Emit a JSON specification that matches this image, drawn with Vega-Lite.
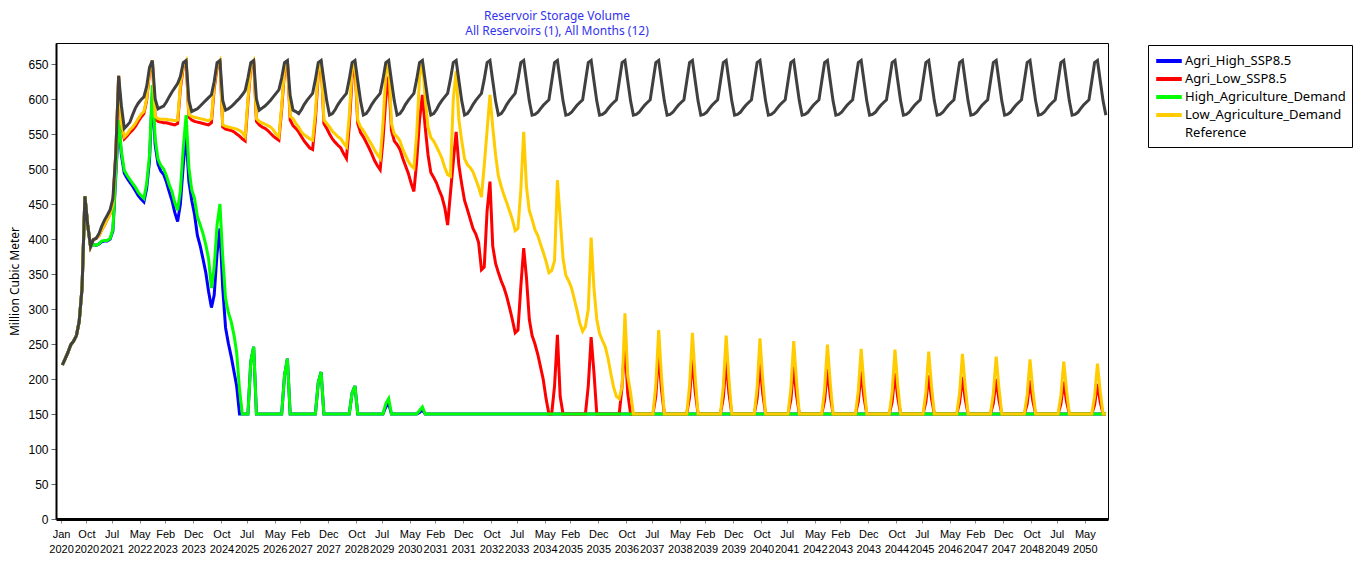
{
"$schema": "https://vega.github.io/schema/vega-lite/v6.json",
"width": 1052, "height": 476,
"autosize": "none",
"padding": {"left": 56, "top": 43, "right": 257, "bottom": 45},
"background": "white",
"title": {"text": ["Reservoir Storage Volume", "All Reservoirs (1),  All Months (12)"], "color": "#3333ee", "font": "Noto Sans", "fontSize": 12, "fontWeight": "normal", "anchor": "middle", "dx": -25, "offset": 5, "lineHeight": 15},
"config": {
  "view": {"stroke": "black", "strokeWidth": 1},
  "axisX": {"labelFont": "Liberation Sans", "labelFontSize": 11, "labelColor": "black", "labelPadding": 5, "labelLineHeight": 15, "tickSize": 4, "tickColor": "#888888", "domainColor": "black", "domainWidth": 3, "grid": false, "labelOverlap": false, "labelFlush": false, "labelBound": false},
  "axisY": {"labelFont": "Liberation Sans", "labelFontSize": 12, "labelColor": "black", "labelPadding": 3, "tickSize": 5, "tickColor": "#666666", "domainColor": "black", "domainWidth": 2, "grid": false, "labelOverlap": false, "titleFont": "Noto Sans", "titleFontSize": 12, "titleFontWeight": "normal", "titleColor": "black", "titlePadding": 6}
},
"data": {"values": [
{"d":"2020-01-15","AH":220,"AL":220,"HD":220,"LD":220,"R":220},
{"d":"2020-02-15","AH":229,"AL":229,"HD":229,"LD":229,"R":229},
{"d":"2020-03-15","AH":238,"AL":238,"HD":238,"LD":238,"R":238},
{"d":"2020-04-15","AH":249,"AL":249,"HD":249,"LD":249,"R":249},
{"d":"2020-05-15","AH":254,"AL":254,"HD":254,"LD":254,"R":254},
{"d":"2020-06-15","AH":262,"AL":262,"HD":262,"LD":262,"R":262},
{"d":"2020-07-15","AH":282,"AL":282,"HD":282,"LD":282,"R":282},
{"d":"2020-08-15","AH":330,"AL":330,"HD":330,"LD":330,"R":330},
{"d":"2020-09-15","AH":461,"AL":461,"HD":461,"LD":461,"R":461},
{"d":"2020-10-15","AH":420,"AL":420,"HD":420,"LD":420,"R":420},
{"d":"2020-11-15","AH":389,"AL":389,"HD":389,"LD":389,"R":389},
{"d":"2020-12-15","AH":392,"AL":399,"HD":392,"LD":399,"R":399},
{"d":"2021-01-15","AH":391,"AL":401,"HD":391,"LD":401,"R":401},
{"d":"2021-02-15","AH":393,"AL":405,"HD":393,"LD":405,"R":408},
{"d":"2021-03-15","AH":396,"AL":413,"HD":397,"LD":413,"R":418},
{"d":"2021-04-15","AH":397,"AL":420,"HD":398,"LD":420,"R":427},
{"d":"2021-05-15","AH":397,"AL":428,"HD":398,"LD":428,"R":434},
{"d":"2021-06-15","AH":400,"AL":436,"HD":401,"LD":436,"R":442},
{"d":"2021-07-15","AH":412,"AL":450,"HD":414,"LD":450,"R":458},
{"d":"2021-08-15","AH":490,"AL":522,"HD":495,"LD":522,"R":522},
{"d":"2021-09-15","AH":565,"AL":633,"HD":570,"LD":633,"R":633},
{"d":"2021-10-15","AH":520,"AL":562,"HD":525,"LD":565,"R":590},
{"d":"2021-11-15","AH":494,"AL":543,"HD":498,"LD":546,"R":558},
{"d":"2021-12-15","AH":487,"AL":547,"HD":491,"LD":550,"R":562},
{"d":"2022-01-15","AH":481,"AL":552,"HD":485,"LD":556,"R":567},
{"d":"2022-02-15","AH":475,"AL":556,"HD":479,"LD":560,"R":578},
{"d":"2022-03-15","AH":469,"AL":561,"HD":474,"LD":565,"R":587},
{"d":"2022-04-15","AH":462,"AL":568,"HD":467,"LD":572,"R":594},
{"d":"2022-05-15","AH":457,"AL":574,"HD":462,"LD":578,"R":599},
{"d":"2022-06-15","AH":453,"AL":579,"HD":458,"LD":582,"R":603},
{"d":"2022-07-15","AH":472,"AL":598,"HD":479,"LD":600,"R":618},
{"d":"2022-08-15","AH":512,"AL":638,"HD":520,"LD":640,"R":645},
{"d":"2022-09-15","AH":610,"AL":655,"HD":620,"LD":655,"R":655},
{"d":"2022-10-15","AH":535,"AL":572,"HD":543,"LD":575,"R":600},
{"d":"2022-11-15","AH":507,"AL":568,"HD":514,"LD":572,"R":586},
{"d":"2022-12-15","AH":497,"AL":567,"HD":505,"LD":571,"R":588},
{"d":"2023-01-15","AH":492,"AL":566,"HD":500,"LD":571,"R":590},
{"d":"2023-02-15","AH":481,"AL":566,"HD":490,"LD":571,"R":596},
{"d":"2023-03-15","AH":468,"AL":565,"HD":478,"LD":570,"R":603},
{"d":"2023-04-15","AH":455,"AL":564,"HD":468,"LD":570,"R":610},
{"d":"2023-05-15","AH":438,"AL":563,"HD":452,"LD":569,"R":616},
{"d":"2023-06-15","AH":425,"AL":565,"HD":441,"LD":570,"R":622},
{"d":"2023-07-15","AH":450,"AL":615,"HD":469,"LD":620,"R":632},
{"d":"2023-08-15","AH":505,"AL":645,"HD":530,"LD":648,"R":652},
{"d":"2023-09-15","AH":550,"AL":655,"HD":577,"LD":655,"R":655},
{"d":"2023-10-15","AH":482,"AL":574,"HD":502,"LD":578,"R":598},
{"d":"2023-11-15","AH":455,"AL":570,"HD":470,"LD":575,"R":582},
{"d":"2023-12-15","AH":435,"AL":568,"HD":458,"LD":574,"R":584},
{"d":"2024-01-15","AH":405,"AL":567,"HD":432,"LD":573,"R":586},
{"d":"2024-02-15","AH":390,"AL":566,"HD":420,"LD":572,"R":590},
{"d":"2024-03-15","AH":372,"AL":565,"HD":408,"LD":571,"R":594},
{"d":"2024-04-15","AH":352,"AL":564,"HD":392,"LD":570,"R":598},
{"d":"2024-05-15","AH":325,"AL":563,"HD":372,"LD":569,"R":602},
{"d":"2024-06-15","AH":302,"AL":566,"HD":330,"LD":572,"R":606},
{"d":"2024-07-15","AH":320,"AL":615,"HD":360,"LD":620,"R":625},
{"d":"2024-08-15","AH":380,"AL":645,"HD":420,"LD":648,"R":652},
{"d":"2024-09-15","AH":415,"AL":655,"HD":450,"LD":655,"R":655},
{"d":"2024-10-15","AH":330,"AL":560,"HD":375,"LD":563,"R":598},
{"d":"2024-11-15","AH":273,"AL":557,"HD":315,"LD":561,"R":584},
{"d":"2024-12-15","AH":251,"AL":556,"HD":295,"LD":560,"R":586},
{"d":"2025-01-15","AH":232,"AL":555,"HD":282,"LD":559,"R":589},
{"d":"2025-02-15","AH":210,"AL":553,"HD":262,"LD":558,"R":593},
{"d":"2025-03-15","AH":190,"AL":550,"HD":238,"LD":557,"R":597},
{"d":"2025-04-15","AH":150,"AL":547,"HD":185,"LD":555,"R":601},
{"d":"2025-05-15","AH":150,"AL":543,"HD":150,"LD":552,"R":606},
{"d":"2025-06-15","AH":150,"AL":540,"HD":150,"LD":546,"R":612},
{"d":"2025-07-15","AH":150,"AL":595,"HD":150,"LD":600,"R":630},
{"d":"2025-08-15","AH":225,"AL":645,"HD":225,"LD":648,"R":652},
{"d":"2025-09-15","AH":246,"AL":655,"HD":246,"LD":655,"R":655},
{"d":"2025-10-15","AH":150,"AL":568,"HD":150,"LD":572,"R":600},
{"d":"2025-11-15","AH":150,"AL":563,"HD":150,"LD":568,"R":584},
{"d":"2025-12-15","AH":150,"AL":560,"HD":150,"LD":566,"R":587},
{"d":"2026-01-15","AH":150,"AL":558,"HD":150,"LD":564,"R":590},
{"d":"2026-02-15","AH":150,"AL":555,"HD":150,"LD":562,"R":594},
{"d":"2026-03-15","AH":150,"AL":551,"HD":150,"LD":560,"R":598},
{"d":"2026-04-15","AH":150,"AL":547,"HD":150,"LD":556,"R":603},
{"d":"2026-05-15","AH":150,"AL":544,"HD":150,"LD":550,"R":608},
{"d":"2026-06-15","AH":150,"AL":541,"HD":150,"LD":546,"R":613},
{"d":"2026-07-15","AH":150,"AL":585,"HD":150,"LD":590,"R":630},
{"d":"2026-08-15","AH":205,"AL":640,"HD":205,"LD":645,"R":652},
{"d":"2026-09-15","AH":229,"AL":655,"HD":229,"LD":655,"R":655},
{"d":"2026-10-15","AH":150,"AL":570,"HD":150,"LD":575,"R":605},
{"d":"2026-11-15","AH":150,"AL":562,"HD":150,"LD":572,"R":584},
{"d":"2026-12-15","AH":150,"AL":558,"HD":150,"LD":565,"R":582},
{"d":"2027-01-15","AH":150,"AL":553,"HD":150,"LD":560,"R":579},
{"d":"2027-02-15","AH":150,"AL":546,"HD":150,"LD":553,"R":585},
{"d":"2027-03-15","AH":150,"AL":540,"HD":150,"LD":549,"R":592},
{"d":"2027-04-15","AH":150,"AL":535,"HD":150,"LD":546,"R":598},
{"d":"2027-05-15","AH":150,"AL":530,"HD":150,"LD":543,"R":603},
{"d":"2027-06-15","AH":150,"AL":528,"HD":150,"LD":541,"R":608},
{"d":"2027-07-15","AH":150,"AL":570,"HD":150,"LD":580,"R":628},
{"d":"2027-08-15","AH":195,"AL":635,"HD":195,"LD":640,"R":652},
{"d":"2027-09-15","AH":210,"AL":655,"HD":210,"LD":655,"R":655},
{"d":"2027-10-15","AH":150,"AL":565,"HD":150,"LD":570,"R":626},
{"d":"2027-11-15","AH":150,"AL":558,"HD":150,"LD":565,"R":597},
{"d":"2027-12-15","AH":150,"AL":550,"HD":150,"LD":560,"R":577},
{"d":"2028-01-15","AH":150,"AL":543,"HD":150,"LD":554,"R":579},
{"d":"2028-02-15","AH":150,"AL":538,"HD":150,"LD":550,"R":585},
{"d":"2028-03-15","AH":150,"AL":534,"HD":150,"LD":546,"R":592},
{"d":"2028-04-15","AH":150,"AL":530,"HD":150,"LD":543,"R":598},
{"d":"2028-05-15","AH":150,"AL":522,"HD":150,"LD":537,"R":603},
{"d":"2028-06-15","AH":150,"AL":515,"HD":150,"LD":532,"R":608},
{"d":"2028-07-15","AH":150,"AL":560,"HD":150,"LD":575,"R":628},
{"d":"2028-08-15","AH":180,"AL":630,"HD":180,"LD":640,"R":652},
{"d":"2028-09-15","AH":190,"AL":650,"HD":190,"LD":655,"R":655},
{"d":"2028-10-15","AH":150,"AL":565,"HD":150,"LD":570,"R":626},
{"d":"2028-11-15","AH":150,"AL":552,"HD":150,"LD":560,"R":597},
{"d":"2028-12-15","AH":150,"AL":546,"HD":150,"LD":555,"R":577},
{"d":"2029-01-15","AH":150,"AL":538,"HD":150,"LD":548,"R":579},
{"d":"2029-02-15","AH":150,"AL":530,"HD":150,"LD":541,"R":585},
{"d":"2029-03-15","AH":150,"AL":522,"HD":150,"LD":535,"R":592},
{"d":"2029-04-15","AH":150,"AL":512,"HD":150,"LD":527,"R":598},
{"d":"2029-05-15","AH":150,"AL":505,"HD":150,"LD":521,"R":603},
{"d":"2029-06-15","AH":150,"AL":499,"HD":150,"LD":515,"R":608},
{"d":"2029-07-15","AH":150,"AL":540,"HD":150,"LD":565,"R":628},
{"d":"2029-08-15","AH":160,"AL":600,"HD":165,"LD":635,"R":652},
{"d":"2029-09-15","AH":165,"AL":632,"HD":172,"LD":655,"R":655},
{"d":"2029-10-15","AH":150,"AL":555,"HD":150,"LD":565,"R":626},
{"d":"2029-11-15","AH":150,"AL":540,"HD":150,"LD":550,"R":597},
{"d":"2029-12-15","AH":150,"AL":535,"HD":150,"LD":546,"R":577},
{"d":"2030-01-15","AH":150,"AL":528,"HD":150,"LD":540,"R":579},
{"d":"2030-02-15","AH":150,"AL":515,"HD":150,"LD":528,"R":585},
{"d":"2030-03-15","AH":150,"AL":505,"HD":150,"LD":520,"R":592},
{"d":"2030-04-15","AH":150,"AL":494,"HD":150,"LD":511,"R":598},
{"d":"2030-05-15","AH":150,"AL":480,"HD":150,"LD":505,"R":603},
{"d":"2030-06-15","AH":150,"AL":468,"HD":150,"LD":501,"R":608},
{"d":"2030-07-15","AH":150,"AL":510,"HD":150,"LD":550,"R":628},
{"d":"2030-08-15","AH":152,"AL":570,"HD":155,"LD":630,"R":652},
{"d":"2030-09-15","AH":156,"AL":606,"HD":160,"LD":655,"R":655},
{"d":"2030-10-15","AH":150,"AL":560,"HD":150,"LD":600,"R":626},
{"d":"2030-11-15","AH":150,"AL":520,"HD":150,"LD":560,"R":597},
{"d":"2030-12-15","AH":150,"AL":495,"HD":150,"LD":545,"R":577},
{"d":"2031-01-15","AH":150,"AL":488,"HD":150,"LD":540,"R":579},
{"d":"2031-02-15","AH":150,"AL":480,"HD":150,"LD":532,"R":585},
{"d":"2031-03-15","AH":150,"AL":470,"HD":150,"LD":524,"R":592},
{"d":"2031-04-15","AH":150,"AL":460,"HD":150,"LD":515,"R":598},
{"d":"2031-05-15","AH":150,"AL":445,"HD":150,"LD":502,"R":603},
{"d":"2031-06-15","AH":150,"AL":420,"HD":150,"LD":492,"R":608},
{"d":"2031-07-15","AH":150,"AL":465,"HD":150,"LD":490,"R":628},
{"d":"2031-08-15","AH":150,"AL":510,"HD":150,"LD":599,"R":652},
{"d":"2031-09-15","AH":150,"AL":553,"HD":150,"LD":640,"R":655},
{"d":"2031-10-15","AH":150,"AL":505,"HD":150,"LD":570,"R":626},
{"d":"2031-11-15","AH":150,"AL":478,"HD":150,"LD":540,"R":597},
{"d":"2031-12-15","AH":150,"AL":455,"HD":150,"LD":515,"R":577},
{"d":"2032-01-15","AH":150,"AL":442,"HD":150,"LD":506,"R":579},
{"d":"2032-02-15","AH":150,"AL":428,"HD":150,"LD":502,"R":585},
{"d":"2032-03-15","AH":150,"AL":415,"HD":150,"LD":496,"R":592},
{"d":"2032-04-15","AH":150,"AL":407,"HD":150,"LD":485,"R":598},
{"d":"2032-05-15","AH":150,"AL":395,"HD":150,"LD":474,"R":603},
{"d":"2032-06-15","AH":150,"AL":356,"HD":150,"LD":460,"R":608},
{"d":"2032-07-15","AH":150,"AL":360,"HD":150,"LD":505,"R":628},
{"d":"2032-08-15","AH":150,"AL":440,"HD":150,"LD":555,"R":652},
{"d":"2032-09-15","AH":150,"AL":482,"HD":150,"LD":606,"R":655},
{"d":"2032-10-15","AH":150,"AL":390,"HD":150,"LD":560,"R":626},
{"d":"2032-11-15","AH":150,"AL":365,"HD":150,"LD":520,"R":597},
{"d":"2032-12-15","AH":150,"AL":352,"HD":150,"LD":490,"R":577},
{"d":"2033-01-15","AH":150,"AL":340,"HD":150,"LD":475,"R":579},
{"d":"2033-02-15","AH":150,"AL":330,"HD":150,"LD":462,"R":585},
{"d":"2033-03-15","AH":150,"AL":318,"HD":150,"LD":452,"R":592},
{"d":"2033-04-15","AH":150,"AL":302,"HD":150,"LD":440,"R":598},
{"d":"2033-05-15","AH":150,"AL":285,"HD":150,"LD":428,"R":603},
{"d":"2033-06-15","AH":150,"AL":266,"HD":150,"LD":412,"R":608},
{"d":"2033-07-15","AH":150,"AL":270,"HD":150,"LD":415,"R":628},
{"d":"2033-08-15","AH":150,"AL":332,"HD":150,"LD":470,"R":652},
{"d":"2033-09-15","AH":150,"AL":387,"HD":150,"LD":553,"R":655},
{"d":"2033-10-15","AH":150,"AL":345,"HD":150,"LD":475,"R":626},
{"d":"2033-11-15","AH":150,"AL":285,"HD":150,"LD":440,"R":597},
{"d":"2033-12-15","AH":150,"AL":262,"HD":150,"LD":428,"R":577},
{"d":"2034-01-15","AH":150,"AL":250,"HD":150,"LD":413,"R":578},
{"d":"2034-02-15","AH":150,"AL":235,"HD":150,"LD":405,"R":581},
{"d":"2034-03-15","AH":150,"AL":218,"HD":150,"LD":393,"R":586},
{"d":"2034-04-15","AH":150,"AL":199,"HD":150,"LD":381,"R":591},
{"d":"2034-05-15","AH":150,"AL":172,"HD":150,"LD":368,"R":595},
{"d":"2034-06-15","AH":150,"AL":150,"HD":150,"LD":352,"R":599},
{"d":"2034-07-15","AH":150,"AL":150,"HD":150,"LD":355,"R":625},
{"d":"2034-08-15","AH":150,"AL":190,"HD":150,"LD":369,"R":652},
{"d":"2034-09-15","AH":150,"AL":263,"HD":150,"LD":484,"R":655},
{"d":"2034-10-15","AH":150,"AL":175,"HD":150,"LD":430,"R":626},
{"d":"2034-11-15","AH":150,"AL":150,"HD":150,"LD":372,"R":597},
{"d":"2034-12-15","AH":150,"AL":150,"HD":150,"LD":348,"R":577},
{"d":"2035-01-15","AH":150,"AL":150,"HD":150,"LD":340,"R":578},
{"d":"2035-02-15","AH":150,"AL":150,"HD":150,"LD":330,"R":581},
{"d":"2035-03-15","AH":150,"AL":150,"HD":150,"LD":315,"R":586},
{"d":"2035-04-15","AH":150,"AL":150,"HD":150,"LD":298,"R":591},
{"d":"2035-05-15","AH":150,"AL":150,"HD":150,"LD":280,"R":595},
{"d":"2035-06-15","AH":150,"AL":150,"HD":150,"LD":268,"R":599},
{"d":"2035-07-15","AH":150,"AL":150,"HD":150,"LD":275,"R":625},
{"d":"2035-08-15","AH":150,"AL":190,"HD":150,"LD":300,"R":652},
{"d":"2035-09-15","AH":150,"AL":260,"HD":150,"LD":402,"R":655},
{"d":"2035-10-15","AH":150,"AL":210,"HD":150,"LD":330,"R":626},
{"d":"2035-11-15","AH":150,"AL":150,"HD":150,"LD":285,"R":597},
{"d":"2035-12-15","AH":150,"AL":150,"HD":150,"LD":265,"R":577},
{"d":"2036-01-15","AH":150,"AL":150,"HD":150,"LD":255,"R":578},
{"d":"2036-02-15","AH":150,"AL":150,"HD":150,"LD":246,"R":581},
{"d":"2036-03-15","AH":150,"AL":150,"HD":150,"LD":230,"R":586},
{"d":"2036-04-15","AH":150,"AL":150,"HD":150,"LD":208,"R":591},
{"d":"2036-05-15","AH":150,"AL":150,"HD":150,"LD":188,"R":595},
{"d":"2036-06-15","AH":150,"AL":150,"HD":150,"LD":175,"R":599},
{"d":"2036-07-15","AH":150,"AL":150,"HD":150,"LD":172,"R":625},
{"d":"2036-08-15","AH":150,"AL":190,"HD":150,"LD":190,"R":652},
{"d":"2036-09-15","AH":150,"AL":252,"HD":150,"LD":294,"R":655},
{"d":"2036-10-15","AH":150,"AL":180,"HD":150,"LD":205,"R":626},
{"d":"2036-11-15","AH":150,"AL":150,"HD":150,"LD":180,"R":597},
{"d":"2036-12-15","AH":150,"AL":150,"HD":150,"LD":150,"R":577},
{"d":"2037-01-15","AH":150,"AL":150,"HD":150,"LD":150,"R":578},
{"d":"2037-02-15","AH":150,"AL":150,"HD":150,"LD":150,"R":581},
{"d":"2037-03-15","AH":150,"AL":150,"HD":150,"LD":150,"R":586},
{"d":"2037-04-15","AH":150,"AL":150,"HD":150,"LD":150,"R":591},
{"d":"2037-05-15","AH":150,"AL":150,"HD":150,"LD":150,"R":595},
{"d":"2037-06-15","AH":150,"AL":150,"HD":150,"LD":150,"R":599},
{"d":"2037-07-15","AH":150,"AL":150,"HD":150,"LD":150,"R":625},
{"d":"2037-08-15","AH":150,"AL":176,"HD":150,"LD":192,"R":652},
{"d":"2037-09-15","AH":150,"AL":238,"HD":150,"LD":270,"R":655},
{"d":"2037-10-15","AH":150,"AL":185,"HD":150,"LD":204,"R":626},
{"d":"2037-11-15","AH":150,"AL":150,"HD":150,"LD":150,"R":597},
{"d":"2037-12-15","AH":150,"AL":150,"HD":150,"LD":150,"R":577},
{"d":"2038-01-15","AH":150,"AL":150,"HD":150,"LD":150,"R":578},
{"d":"2038-02-15","AH":150,"AL":150,"HD":150,"LD":150,"R":581},
{"d":"2038-03-15","AH":150,"AL":150,"HD":150,"LD":150,"R":586},
{"d":"2038-04-15","AH":150,"AL":150,"HD":150,"LD":150,"R":591},
{"d":"2038-05-15","AH":150,"AL":150,"HD":150,"LD":150,"R":595},
{"d":"2038-06-15","AH":150,"AL":150,"HD":150,"LD":150,"R":599},
{"d":"2038-07-15","AH":150,"AL":150,"HD":150,"LD":150,"R":625},
{"d":"2038-08-15","AH":150,"AL":174,"HD":150,"LD":191,"R":652},
{"d":"2038-09-15","AH":150,"AL":230,"HD":150,"LD":266,"R":655},
{"d":"2038-10-15","AH":150,"AL":182,"HD":150,"LD":202,"R":626},
{"d":"2038-11-15","AH":150,"AL":150,"HD":150,"LD":150,"R":597},
{"d":"2038-12-15","AH":150,"AL":150,"HD":150,"LD":150,"R":577},
{"d":"2039-01-15","AH":150,"AL":150,"HD":150,"LD":150,"R":578},
{"d":"2039-02-15","AH":150,"AL":150,"HD":150,"LD":150,"R":581},
{"d":"2039-03-15","AH":150,"AL":150,"HD":150,"LD":150,"R":586},
{"d":"2039-04-15","AH":150,"AL":150,"HD":150,"LD":150,"R":591},
{"d":"2039-05-15","AH":150,"AL":150,"HD":150,"LD":150,"R":595},
{"d":"2039-06-15","AH":150,"AL":150,"HD":150,"LD":150,"R":599},
{"d":"2039-07-15","AH":150,"AL":150,"HD":150,"LD":150,"R":625},
{"d":"2039-08-15","AH":150,"AL":173,"HD":150,"LD":189,"R":652},
{"d":"2039-09-15","AH":150,"AL":226,"HD":150,"LD":262,"R":655},
{"d":"2039-10-15","AH":150,"AL":180,"HD":150,"LD":200,"R":626},
{"d":"2039-11-15","AH":150,"AL":150,"HD":150,"LD":150,"R":597},
{"d":"2039-12-15","AH":150,"AL":150,"HD":150,"LD":150,"R":577},
{"d":"2040-01-15","AH":150,"AL":150,"HD":150,"LD":150,"R":578},
{"d":"2040-02-15","AH":150,"AL":150,"HD":150,"LD":150,"R":581},
{"d":"2040-03-15","AH":150,"AL":150,"HD":150,"LD":150,"R":586},
{"d":"2040-04-15","AH":150,"AL":150,"HD":150,"LD":150,"R":591},
{"d":"2040-05-15","AH":150,"AL":150,"HD":150,"LD":150,"R":595},
{"d":"2040-06-15","AH":150,"AL":150,"HD":150,"LD":150,"R":599},
{"d":"2040-07-15","AH":150,"AL":150,"HD":150,"LD":150,"R":625},
{"d":"2040-08-15","AH":150,"AL":172,"HD":150,"LD":188,"R":652},
{"d":"2040-09-15","AH":150,"AL":222,"HD":150,"LD":258,"R":655},
{"d":"2040-10-15","AH":150,"AL":179,"HD":150,"LD":199,"R":626},
{"d":"2040-11-15","AH":150,"AL":150,"HD":150,"LD":150,"R":597},
{"d":"2040-12-15","AH":150,"AL":150,"HD":150,"LD":150,"R":577},
{"d":"2041-01-15","AH":150,"AL":150,"HD":150,"LD":150,"R":578},
{"d":"2041-02-15","AH":150,"AL":150,"HD":150,"LD":150,"R":581},
{"d":"2041-03-15","AH":150,"AL":150,"HD":150,"LD":150,"R":586},
{"d":"2041-04-15","AH":150,"AL":150,"HD":150,"LD":150,"R":591},
{"d":"2041-05-15","AH":150,"AL":150,"HD":150,"LD":150,"R":595},
{"d":"2041-06-15","AH":150,"AL":150,"HD":150,"LD":150,"R":599},
{"d":"2041-07-15","AH":150,"AL":150,"HD":150,"LD":150,"R":625},
{"d":"2041-08-15","AH":150,"AL":170,"HD":150,"LD":186,"R":652},
{"d":"2041-09-15","AH":150,"AL":218,"HD":150,"LD":254,"R":655},
{"d":"2041-10-15","AH":150,"AL":177,"HD":150,"LD":197,"R":626},
{"d":"2041-11-15","AH":150,"AL":150,"HD":150,"LD":150,"R":597},
{"d":"2041-12-15","AH":150,"AL":150,"HD":150,"LD":150,"R":577},
{"d":"2042-01-15","AH":150,"AL":150,"HD":150,"LD":150,"R":578},
{"d":"2042-02-15","AH":150,"AL":150,"HD":150,"LD":150,"R":581},
{"d":"2042-03-15","AH":150,"AL":150,"HD":150,"LD":150,"R":586},
{"d":"2042-04-15","AH":150,"AL":150,"HD":150,"LD":150,"R":591},
{"d":"2042-05-15","AH":150,"AL":150,"HD":150,"LD":150,"R":595},
{"d":"2042-06-15","AH":150,"AL":150,"HD":150,"LD":150,"R":599},
{"d":"2042-07-15","AH":150,"AL":150,"HD":150,"LD":150,"R":625},
{"d":"2042-08-15","AH":150,"AL":169,"HD":150,"LD":185,"R":652},
{"d":"2042-09-15","AH":150,"AL":214,"HD":150,"LD":249,"R":655},
{"d":"2042-10-15","AH":150,"AL":176,"HD":150,"LD":195,"R":626},
{"d":"2042-11-15","AH":150,"AL":150,"HD":150,"LD":150,"R":597},
{"d":"2042-12-15","AH":150,"AL":150,"HD":150,"LD":150,"R":577},
{"d":"2043-01-15","AH":150,"AL":150,"HD":150,"LD":150,"R":578},
{"d":"2043-02-15","AH":150,"AL":150,"HD":150,"LD":150,"R":581},
{"d":"2043-03-15","AH":150,"AL":150,"HD":150,"LD":150,"R":586},
{"d":"2043-04-15","AH":150,"AL":150,"HD":150,"LD":150,"R":591},
{"d":"2043-05-15","AH":150,"AL":150,"HD":150,"LD":150,"R":595},
{"d":"2043-06-15","AH":150,"AL":150,"HD":150,"LD":150,"R":599},
{"d":"2043-07-15","AH":150,"AL":150,"HD":150,"LD":150,"R":625},
{"d":"2043-08-15","AH":150,"AL":168,"HD":150,"LD":183,"R":652},
{"d":"2043-09-15","AH":150,"AL":211,"HD":150,"LD":243,"R":655},
{"d":"2043-10-15","AH":150,"AL":174,"HD":150,"LD":192,"R":626},
{"d":"2043-11-15","AH":150,"AL":150,"HD":150,"LD":150,"R":597},
{"d":"2043-12-15","AH":150,"AL":150,"HD":150,"LD":150,"R":577},
{"d":"2044-01-15","AH":150,"AL":150,"HD":150,"LD":150,"R":578},
{"d":"2044-02-15","AH":150,"AL":150,"HD":150,"LD":150,"R":581},
{"d":"2044-03-15","AH":150,"AL":150,"HD":150,"LD":150,"R":586},
{"d":"2044-04-15","AH":150,"AL":150,"HD":150,"LD":150,"R":591},
{"d":"2044-05-15","AH":150,"AL":150,"HD":150,"LD":150,"R":595},
{"d":"2044-06-15","AH":150,"AL":150,"HD":150,"LD":150,"R":599},
{"d":"2044-07-15","AH":150,"AL":150,"HD":150,"LD":150,"R":625},
{"d":"2044-08-15","AH":150,"AL":167,"HD":150,"LD":182,"R":652},
{"d":"2044-09-15","AH":150,"AL":208,"HD":150,"LD":242,"R":655},
{"d":"2044-10-15","AH":150,"AL":173,"HD":150,"LD":191,"R":626},
{"d":"2044-11-15","AH":150,"AL":150,"HD":150,"LD":150,"R":597},
{"d":"2044-12-15","AH":150,"AL":150,"HD":150,"LD":150,"R":577},
{"d":"2045-01-15","AH":150,"AL":150,"HD":150,"LD":150,"R":578},
{"d":"2045-02-15","AH":150,"AL":150,"HD":150,"LD":150,"R":581},
{"d":"2045-03-15","AH":150,"AL":150,"HD":150,"LD":150,"R":586},
{"d":"2045-04-15","AH":150,"AL":150,"HD":150,"LD":150,"R":591},
{"d":"2045-05-15","AH":150,"AL":150,"HD":150,"LD":150,"R":595},
{"d":"2045-06-15","AH":150,"AL":150,"HD":150,"LD":150,"R":599},
{"d":"2045-07-15","AH":150,"AL":150,"HD":150,"LD":150,"R":625},
{"d":"2045-08-15","AH":150,"AL":167,"HD":150,"LD":181,"R":652},
{"d":"2045-09-15","AH":150,"AL":205,"HD":150,"LD":239,"R":655},
{"d":"2045-10-15","AH":150,"AL":172,"HD":150,"LD":190,"R":626},
{"d":"2045-11-15","AH":150,"AL":150,"HD":150,"LD":150,"R":597},
{"d":"2045-12-15","AH":150,"AL":150,"HD":150,"LD":150,"R":577},
{"d":"2046-01-15","AH":150,"AL":150,"HD":150,"LD":150,"R":578},
{"d":"2046-02-15","AH":150,"AL":150,"HD":150,"LD":150,"R":581},
{"d":"2046-03-15","AH":150,"AL":150,"HD":150,"LD":150,"R":586},
{"d":"2046-04-15","AH":150,"AL":150,"HD":150,"LD":150,"R":591},
{"d":"2046-05-15","AH":150,"AL":150,"HD":150,"LD":150,"R":595},
{"d":"2046-06-15","AH":150,"AL":150,"HD":150,"LD":150,"R":599},
{"d":"2046-07-15","AH":150,"AL":150,"HD":150,"LD":150,"R":625},
{"d":"2046-08-15","AH":150,"AL":166,"HD":150,"LD":180,"R":652},
{"d":"2046-09-15","AH":150,"AL":203,"HD":150,"LD":236,"R":655},
{"d":"2046-10-15","AH":150,"AL":171,"HD":150,"LD":189,"R":626},
{"d":"2046-11-15","AH":150,"AL":150,"HD":150,"LD":150,"R":597},
{"d":"2046-12-15","AH":150,"AL":150,"HD":150,"LD":150,"R":577},
{"d":"2047-01-15","AH":150,"AL":150,"HD":150,"LD":150,"R":578},
{"d":"2047-02-15","AH":150,"AL":150,"HD":150,"LD":150,"R":581},
{"d":"2047-03-15","AH":150,"AL":150,"HD":150,"LD":150,"R":586},
{"d":"2047-04-15","AH":150,"AL":150,"HD":150,"LD":150,"R":591},
{"d":"2047-05-15","AH":150,"AL":150,"HD":150,"LD":150,"R":595},
{"d":"2047-06-15","AH":150,"AL":150,"HD":150,"LD":150,"R":599},
{"d":"2047-07-15","AH":150,"AL":150,"HD":150,"LD":150,"R":625},
{"d":"2047-08-15","AH":150,"AL":165,"HD":150,"LD":179,"R":652},
{"d":"2047-09-15","AH":150,"AL":200,"HD":150,"LD":232,"R":655},
{"d":"2047-10-15","AH":150,"AL":170,"HD":150,"LD":187,"R":626},
{"d":"2047-11-15","AH":150,"AL":150,"HD":150,"LD":150,"R":597},
{"d":"2047-12-15","AH":150,"AL":150,"HD":150,"LD":150,"R":577},
{"d":"2048-01-15","AH":150,"AL":150,"HD":150,"LD":150,"R":578},
{"d":"2048-02-15","AH":150,"AL":150,"HD":150,"LD":150,"R":581},
{"d":"2048-03-15","AH":150,"AL":150,"HD":150,"LD":150,"R":586},
{"d":"2048-04-15","AH":150,"AL":150,"HD":150,"LD":150,"R":591},
{"d":"2048-05-15","AH":150,"AL":150,"HD":150,"LD":150,"R":595},
{"d":"2048-06-15","AH":150,"AL":150,"HD":150,"LD":150,"R":599},
{"d":"2048-07-15","AH":150,"AL":150,"HD":150,"LD":150,"R":625},
{"d":"2048-08-15","AH":150,"AL":164,"HD":150,"LD":177,"R":652},
{"d":"2048-09-15","AH":150,"AL":198,"HD":150,"LD":228,"R":655},
{"d":"2048-10-15","AH":150,"AL":169,"HD":150,"LD":185,"R":626},
{"d":"2048-11-15","AH":150,"AL":150,"HD":150,"LD":150,"R":597},
{"d":"2048-12-15","AH":150,"AL":150,"HD":150,"LD":150,"R":577},
{"d":"2049-01-15","AH":150,"AL":150,"HD":150,"LD":150,"R":578},
{"d":"2049-02-15","AH":150,"AL":150,"HD":150,"LD":150,"R":581},
{"d":"2049-03-15","AH":150,"AL":150,"HD":150,"LD":150,"R":586},
{"d":"2049-04-15","AH":150,"AL":150,"HD":150,"LD":150,"R":591},
{"d":"2049-05-15","AH":150,"AL":150,"HD":150,"LD":150,"R":595},
{"d":"2049-06-15","AH":150,"AL":150,"HD":150,"LD":150,"R":599},
{"d":"2049-07-15","AH":150,"AL":150,"HD":150,"LD":150,"R":625},
{"d":"2049-08-15","AH":150,"AL":164,"HD":150,"LD":176,"R":652},
{"d":"2049-09-15","AH":150,"AL":196,"HD":150,"LD":225,"R":655},
{"d":"2049-10-15","AH":150,"AL":168,"HD":150,"LD":184,"R":626},
{"d":"2049-11-15","AH":150,"AL":150,"HD":150,"LD":150,"R":597},
{"d":"2049-12-15","AH":150,"AL":150,"HD":150,"LD":150,"R":577},
{"d":"2050-01-15","AH":150,"AL":150,"HD":150,"LD":150,"R":578},
{"d":"2050-02-15","AH":150,"AL":150,"HD":150,"LD":150,"R":581},
{"d":"2050-03-15","AH":150,"AL":150,"HD":150,"LD":150,"R":586},
{"d":"2050-04-15","AH":150,"AL":150,"HD":150,"LD":150,"R":591},
{"d":"2050-05-15","AH":150,"AL":150,"HD":150,"LD":150,"R":595},
{"d":"2050-06-15","AH":150,"AL":150,"HD":150,"LD":150,"R":599},
{"d":"2050-07-15","AH":150,"AL":150,"HD":150,"LD":150,"R":625},
{"d":"2050-08-15","AH":150,"AL":163,"HD":150,"LD":175,"R":652},
{"d":"2050-09-15","AH":150,"AL":193,"HD":150,"LD":222,"R":655},
{"d":"2050-10-15","AH":150,"AL":167,"HD":150,"LD":182,"R":626},
{"d":"2050-11-15","AH":150,"AL":150,"HD":150,"LD":150,"R":597},
{"d":"2050-12-15","AH":150,"AL":150,"HD":150,"LD":150,"R":577}
]},
"transform": [{"fold": ["AH", "AL", "HD", "LD", "R"], "as": ["s", "v"]}],
"encoding": {
  "x": {"field": "d", "type": "temporal",
    "scale": {"type": "utc", "domain": [{"year": 2019, "month": 11, "date": 7, "utc": true}, {"year": 2051, "month": 1, "date": 7, "utc": true}]},
    "axis": {"title": null, "labelOverlap": false, "labelExpr": "[utcFormat(datum.value, '%b'), utcFormat(datum.value, '%Y')]",
      "values": [
        {"year":2020,"month":1,"date":1,"utc":true},{"year":2020,"month":10,"date":1,"utc":true},{"year":2021,"month":7,"date":1,"utc":true},
        {"year":2022,"month":5,"date":1,"utc":true},{"year":2023,"month":2,"date":1,"utc":true},{"year":2023,"month":12,"date":1,"utc":true},
        {"year":2024,"month":10,"date":1,"utc":true},{"year":2025,"month":7,"date":1,"utc":true},{"year":2026,"month":5,"date":1,"utc":true},
        {"year":2027,"month":2,"date":1,"utc":true},{"year":2027,"month":12,"date":1,"utc":true},{"year":2028,"month":10,"date":1,"utc":true},
        {"year":2029,"month":7,"date":1,"utc":true},{"year":2030,"month":5,"date":1,"utc":true},{"year":2031,"month":2,"date":1,"utc":true},
        {"year":2031,"month":12,"date":1,"utc":true},{"year":2032,"month":10,"date":1,"utc":true},{"year":2033,"month":7,"date":1,"utc":true},
        {"year":2034,"month":5,"date":1,"utc":true},{"year":2035,"month":2,"date":1,"utc":true},{"year":2035,"month":12,"date":1,"utc":true},
        {"year":2036,"month":10,"date":1,"utc":true},{"year":2037,"month":7,"date":1,"utc":true},{"year":2038,"month":5,"date":1,"utc":true},
        {"year":2039,"month":2,"date":1,"utc":true},{"year":2039,"month":12,"date":1,"utc":true},{"year":2040,"month":10,"date":1,"utc":true},
        {"year":2041,"month":7,"date":1,"utc":true},{"year":2042,"month":5,"date":1,"utc":true},{"year":2043,"month":2,"date":1,"utc":true},
        {"year":2043,"month":12,"date":1,"utc":true},{"year":2044,"month":10,"date":1,"utc":true},{"year":2045,"month":7,"date":1,"utc":true},
        {"year":2046,"month":5,"date":1,"utc":true},{"year":2047,"month":2,"date":1,"utc":true},{"year":2047,"month":12,"date":1,"utc":true},
        {"year":2048,"month":10,"date":1,"utc":true},{"year":2049,"month":7,"date":1,"utc":true},{"year":2050,"month":5,"date":1,"utc":true}
      ]}},
  "y": {"field": "v", "type": "quantitative", "title": "Million Cubic Meter",
    "scale": {"domain": [0, 680], "nice": false},
    "axis": {"values": [0,50,100,150,200,250,300,350,400,450,500,550,600,650], "labelOverlap": false}},
  "color": {"field": "s", "type": "nominal",
    "scale": {"domain": ["AH", "AL", "HD", "LD", "R"], "range": ["#0000ff", "#ff0000", "#00ff00", "#ffcc00", "rgba(0,0,0,0)"]},
    "legend": {"title": null, "orient": "none", "legendX": 1092, "legendY": 2, "direction": "vertical",
      "symbolType": "M-1.6,0H1.6", "symbolSize": 256, "symbolStrokeWidth": 4, "symbolOffset": 5,
      "labelFont": "Noto Sans", "labelFontSize": 13, "labelColor": "black", "labelOffset": 6, "labelLimit": 400,
      "strokeColor": "black", "fillColor": "white", "padding": 6, "rowPadding": 0,
      "labelExpr": "datum.label == 'AH' ? 'Agri_High_SSP8.5' : datum.label == 'AL' ? 'Agri_Low_SSP8.5' : datum.label == 'HD' ? 'High_Agriculture_Demand' : datum.label == 'LD' ? 'Low_Agriculture_Demand' : 'Reference'"}}
},
"layer": [
  {"transform": [{"filter": "datum.s == 'AH'"}], "mark": {"type": "line", "strokeWidth": 3}},
  {"transform": [{"filter": "datum.s == 'AL'"}], "mark": {"type": "line", "strokeWidth": 3}},
  {"transform": [{"filter": "datum.s == 'HD'"}], "mark": {"type": "line", "strokeWidth": 3}},
  {"transform": [{"filter": "datum.s == 'LD'"}], "mark": {"type": "line", "strokeWidth": 3}},
  {"transform": [{"filter": "datum.s == 'R'"}], "mark": {"type": "line", "strokeWidth": 3}, "encoding": {"color": {"value": "#404040"}}}
]
}
